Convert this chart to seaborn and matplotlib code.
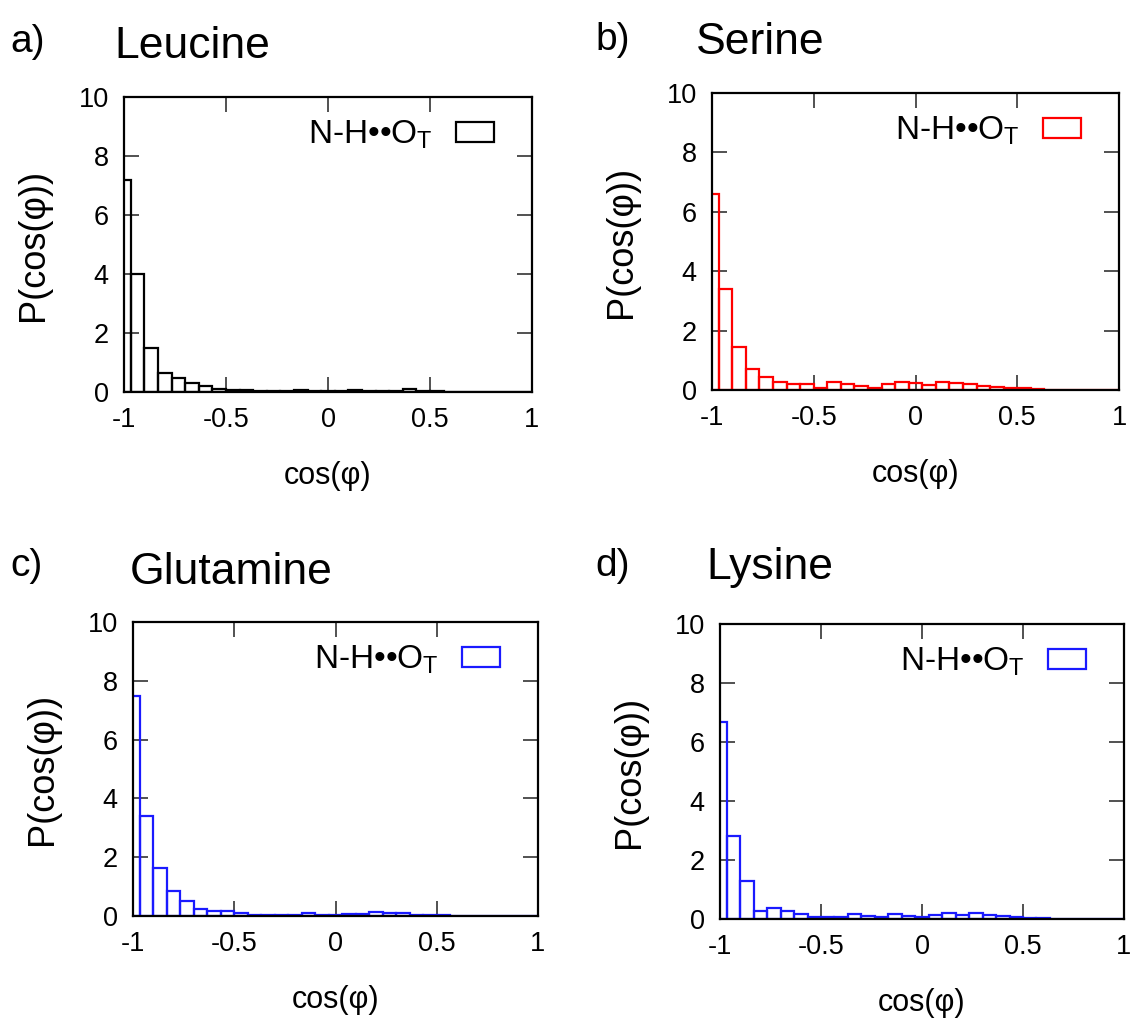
import numpy as np
import pandas as pd
import matplotlib
matplotlib.use("Agg")
import matplotlib.pyplot as plt
from matplotlib.patches import Patch
import seaborn as sns

# ---- data: histogram of cos(phi), bins of width 1/15 centred at -1 + k/15 ----
bin_centers = [-1 + k / 15 for k in range(31)]

leucine = [7.17, 4.01, 1.49, 0.64, 0.46, 0.30, 0.19, 0.10, 0.07, 0.06,
           0.05, 0.03, 0.03, 0.07, 0.03, 0.05, 0.03, 0.08, 0.03, 0.03,
           0.03, 0.10, 0.02, 0.02, 0.01, 0.0, 0.0, 0.0, 0.0, 0.0, 0.0]
serine = [6.60, 3.39, 1.44, 0.71, 0.43, 0.26, 0.19, 0.19, 0.06, 0.28,
          0.19, 0.13, 0.07, 0.19, 0.28, 0.24, 0.17, 0.28, 0.24, 0.20,
          0.15, 0.11, 0.08, 0.06, 0.04, 0.0, 0.0, 0.0, 0.0, 0.0, 0.0]
glutamine = [7.49, 3.41, 1.62, 0.86, 0.51, 0.25, 0.17, 0.17, 0.09, 0.03,
             0.02, 0.03, 0.04, 0.09, 0.05, 0.03, 0.08, 0.06, 0.13, 0.11,
             0.11, 0.03, 0.03, 0.02, 0.0, 0.0, 0.0, 0.0, 0.0, 0.0, 0.0]
lysine = [6.67, 2.81, 1.29, 0.28, 0.36, 0.27, 0.17, 0.08, 0.07, 0.06,
          0.17, 0.10, 0.08, 0.17, 0.10, 0.08, 0.12, 0.21, 0.14, 0.19,
          0.12, 0.10, 0.07, 0.03, 0.02, 0.01, 0.0, 0.0, 0.0, 0.0, 0.0]

panel_letters = ["a)", "b)", "c)", "d)"]
panel_names = ["Leucine", "Serine", "Glutamine", "Lysine"]
panel_colors = ["black", "#ff0000", "#1a1aff", "#1a1aff"]
series = [leucine, serine, glutamine, lysine]
legend_label = "N-H\u2022\u2022O$_{\\mathrm{T}}$"
x_ticks = [-1, -0.5, 0, 0.5, 1]
x_ticklabels = ["-1", "-0.5", "0", "0.5", "1"]
y_ticks = [0, 2, 4, 6, 8, 10]

# ---- style ----
sns.set_theme(style="ticks")
plt.rcParams["font.family"] = ["Liberation Sans", "DejaVu Sans"]
plt.rcParams["mathtext.fontset"] = "custom"
plt.rcParams["mathtext.rm"] = "Liberation Sans"
plt.rcParams["text.color"] = "black"
plt.rcParams["axes.labelcolor"] = "black"
plt.rcParams["xtick.labelcolor"] = "black"
plt.rcParams["ytick.labelcolor"] = "black"

W, H = 1137, 1030
fig = plt.figure(figsize=(W / 100, H / 100), dpi=100)

# axes boxes in pixels: left, right, top, bottom
boxes = [(124, 532, 97, 392), (712, 1119, 93, 390),
         (133, 538, 622, 916), (720, 1124, 624, 919)]
letter_pos = [(10, 42), (595, 40), (10, 566), (595, 566)]
name_pos = [(114, 46), (696, 42), (130, 572), (706, 568)]

width = 1 / 15
edges = [c - width / 2 for c in bin_centers] + [bin_centers[-1] + width / 2]

for i in range(4):
    l, r, t, b = boxes[i]
    ax = fig.add_axes([l / W, 1 - b / H, (r - l) / W, (b - t) / H])
    df = pd.DataFrame({"x": bin_centers, "w": series[i]})
    df = df[df["w"] > 0]
    sns.histplot(data=df, x="x", weights="w", bins=edges, fill=False,
                 color=panel_colors[i], linewidth=1.6, ax=ax,
                 element="bars", stat="count")
    ax.set_xlim(-1, 1)
    ax.set_ylim(0, 10)
    ax.set_xticks(x_ticks)
    ax.set_xticklabels(x_ticklabels)
    ax.set_yticks(y_ticks)
    ax.tick_params(direction="in", length=11, width=1.2, labelsize=19.5,
                   top=True, right=True, pad=11, color="#333333")
    for sp in ax.spines.values():
        sp.set_visible(True)
        sp.set_linewidth(1.6)
        sp.set_color("black")
    ax.set_xlabel("cos(\u03c6)", fontsize=22, labelpad=20)
    ax.set_ylabel("P(cos(\u03c6))", fontsize=26, labelpad=20)
    handle = Patch(facecolor="none", edgecolor=panel_colors[i],
                   linewidth=1.6, label=legend_label)
    ax.legend(handles=[handle], loc="upper right", frameon=False,
              markerfirst=False, fontsize=24, handlelength=1.15,
              handleheight=0.55, handletextpad=0.7,
              bbox_to_anchor=(0.96, 1.0), borderaxespad=0.25)
    fig.text(letter_pos[i][0] / W, 1 - letter_pos[i][1] / H, panel_letters[i],
             fontsize=28, va="center", ha="left")
    fig.text(name_pos[i][0] / W, 1 - name_pos[i][1] / H, panel_names[i],
             fontsize=32, va="center", ha="left")

fig.savefig("out.png", dpi=100, facecolor="white")
